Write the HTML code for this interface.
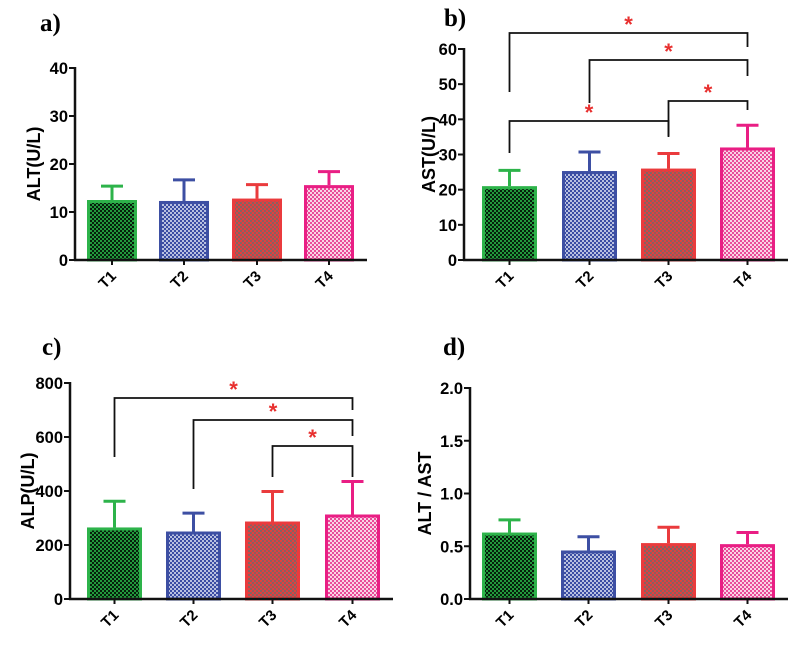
<!DOCTYPE html>
<html><head><meta charset="utf-8"><style>
body{margin:0;background:#fff}
svg{display:block}
text{font-family:"Liberation Sans",Arial,sans-serif;font-weight:bold}
.pl{font-family:"Liberation Serif",serif;font-size:25px;font-weight:bold}
</style></head><body>
<svg id="chart" width="800" height="648" viewBox="0 0 800 648">
<defs>
<pattern id="p0" width="4" height="4" patternUnits="userSpaceOnUse"><rect width="4" height="4" fill="#061f0c"/><rect width="2" height="2" fill="#22993c"/><rect x="2" y="2" width="2" height="2" fill="#22993c"/></pattern>
<pattern id="p1" width="4" height="4" patternUnits="userSpaceOnUse"><rect width="4" height="4" fill="#b8c0e0"/><rect width="2" height="2" fill="#3a4ca3"/><rect x="2" y="2" width="2" height="2" fill="#3a4ca3"/></pattern>
<pattern id="p2" width="4" height="4" patternUnits="userSpaceOnUse"><rect width="4" height="4" fill="#8a6060"/><rect width="2" height="2" fill="#e0403f"/><rect x="2" y="2" width="2" height="2" fill="#e0403f"/></pattern>
<pattern id="p3" width="4" height="4" patternUnits="userSpaceOnUse"><rect width="4" height="4" fill="#f8d3e6"/><rect width="2" height="2" fill="#ea4a98"/><rect x="2" y="2" width="2" height="2" fill="#ea4a98"/></pattern>
</defs>
</svg>
<script>
const categories=["T1","T2","T3","T4"];
const altMeans=[12.5,12.3,12.8,15.6];
const altErr=[15.4,16.7,15.7,18.4];
const astMeans=[21,25.3,26,32];
const astErr=[25.5,30.7,30.3,38.3];
const alpMeans=[265,250,287,313];
const alpErr=[362,318,398,435];
const ratioMeans=[0.63,0.46,0.53,0.52];
const ratioErr=[0.75,0.59,0.68,0.63];
const altTicks=[0,10,20,30,40];
const astTicks=[0,10,20,30,40,50,60];
const alpTicks=[0,200,400,600,800];
const ratioTicks=["0.0","0.5","1.0","1.5","2.0"];
const astBrackets=[[0,3,33,92,47],[1,3,60,103,76],[2,3,101,137,110],[0,2,121,153,136]];
const alpBrackets=[[0,3,398,457,410],[1,3,420,489,436],[2,3,446,477,477]];

const colors=["#2db34a","#3d4fa3","#ea3b3d","#e91e84"];
const NS="http://www.w3.org/2000/svg";
const svg=document.getElementById('chart');
function mk(tag,attrs,parent){const e=document.createElementNS(NS,tag);for(const k in attrs)e.setAttribute(k,attrs[k]);(parent||svg).appendChild(e);return e;}

function panel(o){
  const g=mk('g',{});
  
  
  const y=v=>o.y0-(v/o.max)*(o.y0-o.y1);
  const lab=mk('text',{x:o.lx,y:o.ly,class:'pl'},g);lab.textContent=o.id+')';
  
  
  categories.forEach((c,i)=>{
    const x0=o.bx[i],w=o.bw,cx=x0+w/2;
    const e=mk('line',{x1:cx,x2:cx,y1:y(o.means[i]),y2:y(o.err[i]),stroke:colors[i],'stroke-width':3},g);
    
    
    const cap=mk('line',{x1:cx-11,x2:cx+11,y1:y(o.err[i]),y2:y(o.err[i]),stroke:colors[i],'stroke-width':3},g);
    
    
    const r=mk('rect',{x:x0+1.5,y:y(o.means[i])+1.5,width:w-3,height:o.y0-y(o.means[i])-1.5,fill:'url(#p'+i+')',stroke:colors[i],'stroke-width':3},g);
    
    
    const tx=mk('line',{x1:cx,x2:cx,y1:o.y0,y2:o.y0+5,stroke:'#111','stroke-width':2},g);
    
    
    const t=mk('text',{x:cx+5,y:o.y0+17,'font-size':15,'text-anchor':'end',transform:`rotate(-45 ${cx+5} ${o.y0+17})`},g);
    t.textContent=c;
    
    
  });
  const ya=mk('line',{x1:o.ax,x2:o.ax,y1:o.y1-1,y2:o.y0+1,stroke:'#111','stroke-width':2.5},g);
  
  
  const xa=mk('line',{x1:o.ax-1,x2:o.xend,y1:o.y0,y2:o.y0,stroke:'#111','stroke-width':2.5},g);
  
  
  o.ticks.forEach(tv=>{
    const v=parseFloat(tv),yy=y(v);
    const tl=mk('line',{x1:o.ax-6,x2:o.ax,y1:yy,y2:yy,stroke:'#111','stroke-width':2},g);
    
    
    const t=mk('text',{x:o.ax-7,y:yy+6,'font-size':16.5,'text-anchor':'end'},g);
    t.textContent=tv;
    
    
  });
  const yt=mk('text',{x:o.tx,y:(o.y0+o.y1)/2,'font-size':18,'text-anchor':'middle',transform:`rotate(-90 ${o.tx} ${(o.y0+o.y1)/2})`},g);
  yt.textContent=o.title;
  
  
  (o.brackets||[]).forEach(b=>{
    const xa_=o.bx[b[0]]+o.bw/2,xb=o.bx[b[1]]+o.bw/2;
    const p=mk('path',{d:`M${xa_} ${b[3]}V${b[2]}H${xb}V${b[4]}`,fill:'none',stroke:'#111','stroke-width':1.8},g);
    
    
    const s=mk('text',{x:(xa_+xb)/2,y:b[2]-1,'font-size':22,fill:'#e8302f','text-anchor':'middle','font-weight':'normal'},g);
    s.textContent='*';
    
    
  });
}
panel({id:'a',lx:40,ly:31,ax:75,y0:260,y1:68,max:40,xend:367,bx:[87,159,232,304],bw:50,means:altMeans,err:altErr,ticks:altTicks,title:'ALT(U/L)',tx:40});
panel({id:'b',lx:444,ly:26,ax:464,y0:260,y1:49,max:60,xend:788,bx:[482,562,641,720],bw:55,means:astMeans,err:astErr,ticks:astTicks,title:'AST(U/L)',tx:435,brackets:astBrackets});
panel({id:'c',lx:42,ly:355,ax:70,y0:599,y1:383,max:800,xend:393,bx:[87,166,245,325],bw:55,means:alpMeans,err:alpErr,ticks:alpTicks,title:'ALP(U/L)',tx:34,brackets:alpBrackets});
panel({id:'d',lx:443,ly:355,ax:470,y0:599,y1:388,max:2,xend:788,bx:[482,561,641,720],bw:55,means:ratioMeans,err:ratioErr,ticks:ratioTicks,title:'ALT / AST',tx:431});
</script>
</body></html>
